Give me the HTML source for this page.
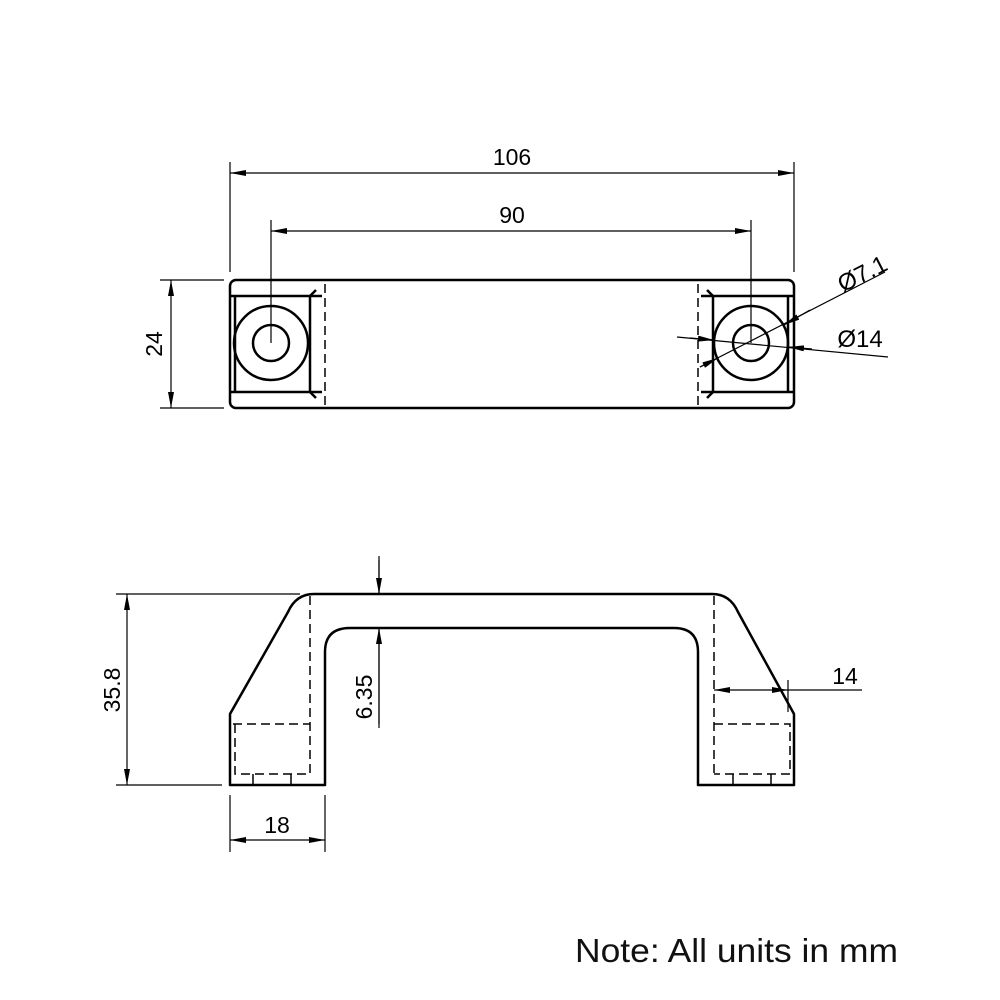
<!DOCTYPE html>
<html><head><meta charset="utf-8"><style>html,body{margin:0;padding:0;background:#fff}svg{display:block}</style></head>
<body>
<svg width="1000" height="1000" viewBox="0 0 1000 1000" xmlns="http://www.w3.org/2000/svg" font-family="Liberation Sans, Arial, sans-serif">
<defs>
<marker id="a" viewBox="0 0 16 6" refX="16" refY="3" markerWidth="16" markerHeight="6" markerUnits="userSpaceOnUse" orient="auto-start-reverse"><path d="M0,0 L16,3 L0,6z" fill="#000"/></marker>
</defs>
<g fill="none" stroke="#000" stroke-width="2.5" stroke-linejoin="round">
<rect x="230" y="280" width="564" height="128" rx="6"/>
<path d="M230,296 H322 M230,392 H322"/>
<path d="M235,296 V392 M310,296 V392 M310,296 L316,290 M310,392 L316,398"/>
<circle cx="271" cy="343" r="37"/><circle cx="271" cy="343" r="18"/>
<path d="M701,296 H794 M701,392 H794"/>
<path d="M713,296 V392 M788,296 V392 M713,296 L707,290 M713,392 L707,398"/>
<circle cx="751" cy="343" r="37"/><circle cx="751" cy="343" r="18"/>
<path d="M230,785 V714 L288,612 Q296,594 314,594 H712 Q730,594 738,612 L794,714 V785 H698 V652 Q698,628 674,628 H350 Q325,628 325,652 V785 Z"/>
</g>
<g fill="none" stroke="#000" stroke-width="1.5" stroke-dasharray="9,5">
<path d="M325,284 V405 M698,284 V405"/>
<path d="M310,596 V774 M714,596 V774"/>
<path d="M233,724 H310 M235,724 V774 H310"/>
<path d="M714,724 H790 V774 H714"/>
</g>
<g stroke="#000" stroke-width="1.5">
<path d="M253,774 V785 M291,774 V785 M733,774 V785 M771,774 V785"/>
</g>
<g fill="none" stroke="#000" stroke-width="1.2">
<path d="M230,162 V272 M794,162 V272 M271,220 V343 M751,220 V343"/>
<path d="M160,280 H224 M160,408 H224"/>
<path d="M116,594 H300 M116,785 H222"/>
<path d="M379,556 V594 M379,628 V728"/>
<path d="M230,795 V852 M325,795 V852"/>
<path d="M788,680 V712 M788,690 H862"/>
<path d="M700,367 L885,272"/>
<path d="M677,337 L888,357"/>
<path d="M230,173 H794" marker-start="url(#a)" marker-end="url(#a)"/>
<path d="M271,231 H751" marker-start="url(#a)" marker-end="url(#a)"/>
<path d="M171,280 V408" marker-start="url(#a)" marker-end="url(#a)"/>
<path d="M127,594 V785" marker-start="url(#a)" marker-end="url(#a)"/>
<path d="M230,840 H325" marker-start="url(#a)" marker-end="url(#a)"/>
<path d="M714,690 H788" marker-start="url(#a)" marker-end="url(#a)"/>
<path d="M379,560 V594" marker-end="url(#a)"/>
<path d="M379,724 V628" marker-end="url(#a)"/>
<path d="M690,338 L714,340" marker-end="url(#a)"/>
<path d="M812,349 L788,347" marker-end="url(#a)"/>
<path d="M810,310 L784,325" marker-end="url(#a)"/>
<path d="M700,367 L718,358" marker-end="url(#a)"/>
</g>
<g fill="#000" font-size="23" text-anchor="middle">
<text x="512" y="165">106</text>
<text x="512" y="223">90</text>
<text x="162" y="344" transform="rotate(-90 162 344)">24</text>
<text x="120" y="690" transform="rotate(-90 120 690)">35.8</text>
<text x="372" y="697" transform="rotate(-90 372 697)">6.35</text>
<text x="277" y="833">18</text>
<text x="845" y="684">14</text>
<text x="860" y="347" font-size="24">Ø14</text>
<text x="866" y="281" font-size="24" transform="rotate(-27 866 281)">Ø7.1</text>
</g>
<text x="575" y="962" font-size="33" textLength="323" lengthAdjust="spacingAndGlyphs" fill="#111">Note: All units in mm</text>
</svg>
</body></html>
